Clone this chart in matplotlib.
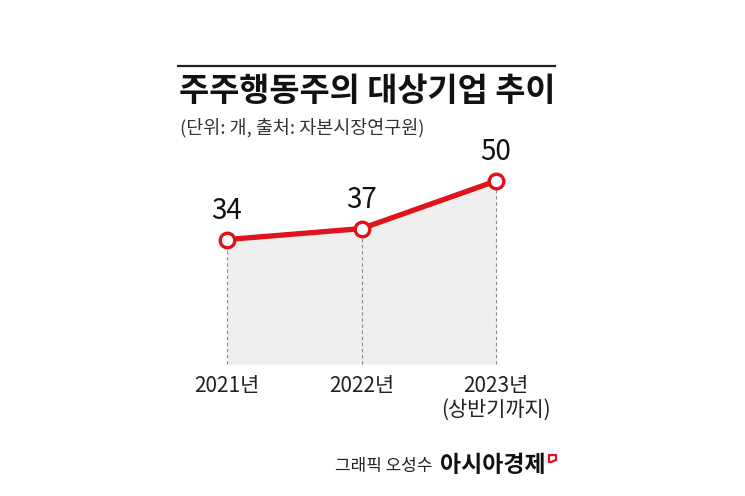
import matplotlib
matplotlib.use("Agg")
import matplotlib.pyplot as plt
from matplotlib.lines import Line2D

plt.rcParams['font.family'] = ['Noto Sans CJK KR', 'DejaVu Sans']

# data
years = ["2021년", "2022년", "2023년\n(상반기까지)"]
values = [34, 37, 50]

W, H = 745, 496
fig = plt.figure(figsize=(W / 100, H / 100), dpi=100)

def fx(px):
    return px / W

def fy(py):
    return 1 - py / H

# plot area: x=0..2 -> px 227..496, y=0..50 -> px 364..181
ax = fig.add_axes([fx(227), fy(364), fx(496) - fx(227), fy(181) - fy(364)])
ax.set_xlim(0, len(values) - 1)
ax.set_ylim(0, 50)
ax.axis("off")

xs = list(range(len(values)))
RED = "#e0121c"
ax.fill_between(xs, values, 0, color="#efefef", lw=0, zorder=1)
for x, v in zip(xs, values):
    ax.plot([x, x], [0, v], color="#8a8a8a", lw=0.8, ls=(0, (3, 2.5)), zorder=2, clip_on=False)
ax.plot(xs, values, color=RED, lw=3.8, zorder=3, clip_on=False, solid_capstyle="round")
ax.plot(xs, values, "o", ms=10.5, mfc="white", mec=RED, mew=2.4, zorder=4, clip_on=False)
for x, v in zip(xs, values):
    ax.annotate(str(v), (x, v), xytext=(0, 10), textcoords="offset points",
                ha="center", va="bottom", fontsize=20, color="#111")
for x, lab in zip(xs, years):
    ax.annotate(lab, (x, 0), xytext=(0, -8), textcoords="offset points",
                ha="center", va="top", fontsize=15, color="#222", linespacing=1.12)

# header
fig.add_artist(Line2D([fx(178), fx(555)], [fy(66), fy(66)], color="#222", lw=1.6))
fig.text(fx(179), fy(92), "주주행동주의 대상기업 추이", ha="left", va="center",
         fontsize=23.6, fontweight="bold", color="#111")
fig.text(fx(180), fy(128), "(단위: 개, 출처: 자본시장연구원)", ha="left", va="center",
         fontsize=13.3, color="#333")

# credit
fig.text(fx(335), fy(466), "그래픽 오성수", ha="left", va="center", fontsize=12.2, color="#222")
fig.text(fx(440), fy(466), "아시아경제", ha="left", va="center", fontsize=16.5,
         fontweight="bold", color="#111")
fig.add_artist(Line2D([fx(549), fx(549), fx(556), fx(556), fx(551)],
                      [fy(462), fy(455), fy(455), fy(460), fy(462)],
                      color=RED, lw=1.6))

fig.savefig("out.png", dpi=100)
